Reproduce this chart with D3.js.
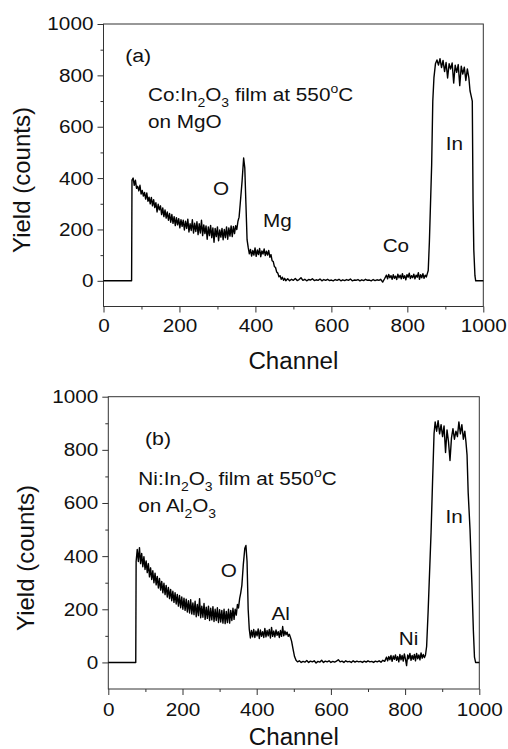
<!DOCTYPE html>
<html>
<head>
<meta charset="utf-8">
<script src="https://cdn.jsdelivr.net/npm/d3@7"></script>
<style>
  body { margin: 0; background: #fff; }
  text { font-family: "Liberation Sans", Arial, sans-serif; fill: #111; }
</style>
</head>
<body>
<div id="plots"></div>
<script>
// page size
var width = 508;
var height = 749;

// tick values shared by both panels
var majorTicks = [0, 200, 400, 600, 800, 1000];
var minorTicks = [100, 300, 500, 700, 900];
var yMajorTicks = [0, 200, 400, 600, 800, 1000];
var yMinorTicks = [100, 300, 500, 700, 900];

// spectrum (a): Co:In2O3 on MgO, [channel, yield]
var spectrumA = [
  [0,0],[74,0],[75,392],
  [78,400],[81,372],[84,392],[87,360],[90,368],[93,350],[96,372],[99,338],[102,352],[105,330],
  [108,344],[111,318],[114,342],[117,310],[120,326],[123,300],[126,325],[129,292],[132,316],[135,285],
  [138,304],[141,268],[144,298],[147,276],[150,292],[153,258],[156,284],[159,250],[162,276],[165,244],
  [168,268],[171,236],[174,262],[177,228],[180,258],[183,224],[186,250],[189,215],[192,246],[195,218],
  [198,242],[201,206],[204,238],[207,212],[210,236],[213,198],[216,232],[219,204],[222,240],[225,190],
  [228,222],[231,196],[234,238],[237,186],[240,224],[243,192],[246,230],[249,180],[252,222],[255,186],
  [258,236],[261,176],[264,218],[267,184],[270,214],[273,162],[276,210],[279,176],[282,216],[285,168],
  [288,206],[291,150],[294,204],[297,172],[300,210],[303,156],[306,198],[309,170],[312,204],[315,160],
  [318,200],[321,168],[324,210],[327,162],[330,206],[333,174],[336,214],[339,172],[342,212],[345,184],
  [348,215],[351,200],[354,232],[357,248],
  [360,300],[365,390],[369,478],[372,440],[375,300],[378,160],
  [381,130],[384,105],[387,122],[390,96],[393,118],[396,100],[399,128],[402,95],[405,120],[408,102],
  [411,126],[414,94],[417,116],[420,104],[423,124],[426,98],[429,115],[432,100],[435,118],[438,92],
  [441,102],[444,78],[447,75],[450,55],[453,52],[456,34],[459,30],[462,16],[465,20],[468,6],
  [471,14],[474,2],[477,10],[480,0],
  [485,8],[490,0],[495,6],[500,2],[505,9],[510,1],[515,5],[520,12],[525,2],[530,6],[535,0],[540,5],
  [545,3],[550,8],[555,1],[560,4],[565,2],[570,7],[575,0],[580,5],[585,2],[590,6],[595,1],[600,3],
  [605,0],[610,5],[615,2],[620,6],[625,0],[630,4],[635,1],[640,5],[645,2],[650,7],[655,0],[660,3],
  [665,2],[670,5],[675,0],[680,4],[685,1],[690,6],[695,2],[700,3],[705,0],[710,5],[715,1],[720,4],
  [725,2],[730,6],[735,-5],[740,8],
  [745,22],[748,8],[751,25],[754,12],[757,20],[760,6],[763,24],[766,10],[769,18],[772,5],[775,26],
  [778,12],[781,22],[784,8],[787,28],[790,10],[793,20],[796,4],[799,24],[802,14],[805,30],[808,9],
  [811,20],[814,12],[817,26],[820,8],[823,22],[826,14],[829,32],[832,6],[835,24],[838,12],[841,28],
  [844,10],[847,22],[850,15],[853,30],[855,40],
  [858,150],[861,300],[864,450],[867,700],[870,790],[874,845],[878,860],[882,840],[886,865],[890,830],
  [894,858],[898,815],[902,850],[906,790],[910,845],[914,825],[918,848],[922,770],[926,840],[930,812],
  [934,842],[938,760],[942,836],[946,805],[950,832],[954,780],[958,825],[962,790],[965,740],[968,720],
  [971,700],[973,313],[975,120],[978,20],[980,0],[1000,0]
];

// spectrum (b): Ni:In2O3 on Al2O3, [channel, yield]
var spectrumB = [
  [0,0],[74,0],[75,380],
  [78,425],[81,380],[84,432],[87,372],[90,410],[93,360],[96,398],[99,350],[102,382],[105,338],
  [108,372],[111,322],[114,356],[117,312],[120,345],[123,300],[126,336],[129,292],[132,324],[135,280],
  [138,316],[141,272],[144,305],[147,262],[150,298],[153,255],[156,290],[159,246],[162,282],[165,240],
  [168,275],[171,232],[174,268],[177,226],[180,262],[183,220],[186,256],[189,212],[192,252],[195,206],
  [198,246],[201,200],[204,242],[207,196],[210,238],[213,190],[216,232],[219,186],[222,236],[225,182],
  [228,224],[231,180],[234,230],[237,172],[240,218],[243,176],[246,240],[249,168],[252,212],[255,170],
  [258,222],[261,162],[264,208],[267,166],[270,212],[273,158],[276,204],[279,160],[282,210],[285,154],
  [288,200],[291,158],[294,206],[297,150],[300,198],[303,152],[306,196],[309,148],[312,200],[315,146],
  [318,192],[321,150],[324,200],[327,148],[330,196],[333,158],[336,204],[339,162],[342,200],[345,178],
  [348,218],[351,205],[354,240],[357,262],
  [360,290],[364,370],[368,430],[371,440],[374,380],[377,200],
  [380,125],[383,92],[386,120],[389,96],[392,124],[395,94],[398,118],[401,100],[404,126],[407,90],
  [410,122],[413,98],[416,116],[419,94],[422,128],[425,96],[428,120],[431,100],[434,124],[437,92],
  [440,132],[443,98],[446,118],[449,96],[452,122],[455,102],[458,116],[461,94],[464,120],[467,98],
  [470,135],[473,100],[476,118],[479,104],[482,114],[485,98],[488,106],[491,94],
  [494,80],[498,50],[502,22],[506,8],[510,2],
  [515,6],[520,0],[525,4],[530,1],[535,7],[540,0],[545,5],[550,2],[555,6],[560,-2],[565,4],[570,1],
  [575,8],[580,0],[585,5],[590,2],[595,6],[600,0],[605,4],[610,1],[615,5],[620,10],[625,2],[630,5],
  [635,0],[640,6],[645,2],[650,4],[655,0],[660,6],[665,1],[670,5],[675,2],[680,4],[685,0],[690,5],
  [695,1],[700,6],[705,2],[710,4],[715,0],[720,5],[725,2],[730,6],[735,1],[740,8],[745,4],
  [750,20],[753,6],[756,22],[759,10],[762,26],[765,4],[768,24],[771,12],[774,28],[777,8],[780,22],
  [783,2],[786,30],[789,10],[792,26],[795,5],[798,32],[801,12],[804,-12],[807,28],[810,14],[813,34],
  [816,8],[819,26],[822,12],[825,30],[828,6],[831,34],[834,14],[837,28],[840,10],[843,36],[846,16],
  [849,30],[852,18],[855,28],
  [858,60],[862,190],[866,340],[870,490],[874,680],[878,860],[881,905],[885,870],[889,910],[893,860],
  [897,895],[901,850],[905,890],[909,790],[913,875],[917,830],[921,760],[925,845],[929,880],[933,840],
  [937,870],[941,850],[945,905],[949,860],[953,895],[957,840],[961,870],[964,830],[967,780],[970,640],
  [975,500],[980,300],[984,120],[987,20],[990,0],[1000,0]
];

// peak labels, [text, channel, yield at baseline]
var peaksA = [["O", 288, 333], ["Mg", 420, 210], ["Co", 735, 113], ["In", 901, 508]];
var peaksB = [["O", 303, 322], ["Al", 440, 160], ["Ni", 783, 66], ["In", 909, 525]];

var svg = d3.select("#plots")
  .append("svg")
  .attr("width", width)
  .attr("height", height);

// text is a bit wide in the original, stretch it sideways
var stretch = "scale(1.12,1)";

function drawPanel(box, data, peaks, tag, line1, line2) {
  var x = d3.scaleLinear().domain([0, 1000]).range([box.left, box.left + box.w]);
  var y = d3.scaleLinear().domain([-100, 1000]).range([box.top + box.h, box.top]);
  var g = svg.append("g");

  // frame
  g.append("rect")
    .attr("x", box.left).attr("y", box.top)
    .attr("width", box.w).attr("height", box.h)
    .attr("fill", "none").attr("stroke", "#333").attr("stroke-width", 1);

  // bottom axis, major + minor
  g.append("g")
    .attr("transform", "translate(0," + (box.top + box.h) + ")")
    .call(d3.axisBottom(x).tickValues(majorTicks).tickFormat(d3.format("d"))
      .tickSize(6).tickSizeOuter(0).tickPadding(box.xPad));
  g.append("g")
    .attr("transform", "translate(0," + (box.top + box.h) + ")")
    .call(d3.axisBottom(x).tickValues(minorTicks).tickSize(3).tickSizeOuter(0).tickFormat(""));

  // left axis, major + minor
  g.append("g")
    .attr("transform", "translate(" + box.left + ",0)")
    .call(d3.axisLeft(y).tickValues(yMajorTicks).tickFormat(d3.format("d"))
      .tickSize(6).tickSizeOuter(0).tickPadding(3));
  g.append("g")
    .attr("transform", "translate(" + box.left + ",0)")
    .call(d3.axisLeft(y).tickValues(yMinorTicks).tickSize(3).tickSizeOuter(0).tickFormat(""));

  g.selectAll(".domain").remove();
  g.selectAll(".tick line").attr("stroke", "#333");
  g.selectAll(".tick text")
    .attr("font-size", 18.5)
    .attr("font-family", "Liberation Sans, Arial, sans-serif")
    .attr("fill", "#111")
    .attr("transform", stretch);

  // spectrum
  var line = d3.line()
    .x(function(d) { return x(d[0]); })
    .y(function(d) { return y(d[1]); });
  g.append("path")
    .datum(data)
    .attr("d", line)
    .attr("fill", "none")
    .attr("stroke", "#000")
    .attr("stroke-width", 1.4)
    .attr("stroke-linejoin", "round");

  // axis titles
  g.append("text")
    .text("Channel")
    .attr("font-size", 23)
    .attr("text-anchor", "middle")
    .attr("transform", "translate(" + (box.left + box.w / 2) + "," + (box.top + box.h + box.chanY) + ") scale(1.05,1)");
  g.append("text")
    .text("Yield (counts)")
    .attr("font-size", 24)
    .attr("text-anchor", "middle")
    .attr("transform", "translate(" + box.titleX + "," + box.titleY + ") rotate(-90)");

  // panel tag
  g.append("text")
    .text(tag.text)
    .attr("font-size", 19)
    .attr("transform", "translate(" + x(tag.ch) + "," + y(tag.val) + ") " + stretch);

  // sample description, parts are [text, dy, small?]
  [line1, line2].forEach(function(ln) {
    var t = g.append("text")
      .attr("font-size", 18.5)
      .attr("transform", "translate(" + x(ln.ch) + "," + y(ln.val) + ") " + stretch);
    ln.parts.forEach(function(p) {
      t.append("tspan")
        .text(p[0])
        .attr("font-size", p[2] ? 12.5 : 18.5)
        .attr("dy", p[1]);
    });
  });

  // element labels
  g.selectAll(".peak")
    .data(peaks)
    .enter()
    .append("text")
    .attr("class", "peak")
    .text(function(d) { return d[0]; })
    .attr("font-size", 18.5)
    .attr("transform", function(d) { return "translate(" + x(d[1]) + "," + y(d[2]) + ") " + stretch; });
}

drawPanel(
  {left: 103.5, top: 24, w: 379.8, h: 282.5, xPad: 6, chanY: 62, titleX: 30, titleY: 180},
  spectrumA, peaksA,
  {text: "(a)", ch: 57, val: 851},
  {ch: 117, val: 699, parts: [["Co:In", 0], ["2", 6, 1], ["O", -6], ["3", 6, 1], [" film at 550", -6], ["o", -8, 1], ["C", 8]]},
  {ch: 117, val: 594, parts: [["on MgO", 0]]}
);

drawPanel(
  {left: 108.3, top: 396.7, w: 371, h: 292.3, xPad: 8, chanY: 56, titleX: 34, titleY: 558},
  spectrumB, peaksB,
  {text: "(b)", ch: 99, val: 820},
  {ch: 81, val: 666, parts: [["Ni:In", 0], ["2", 6, 1], ["O", -6], ["3", 6, 1], [" film at 550", -6], ["o", -8, 1], ["C", 8]]},
  {ch: 81, val: 566, parts: [["on Al", 0], ["2", 6, 1], ["O", -6], ["3", 6, 1]]}
);
</script>
</body>
</html>
